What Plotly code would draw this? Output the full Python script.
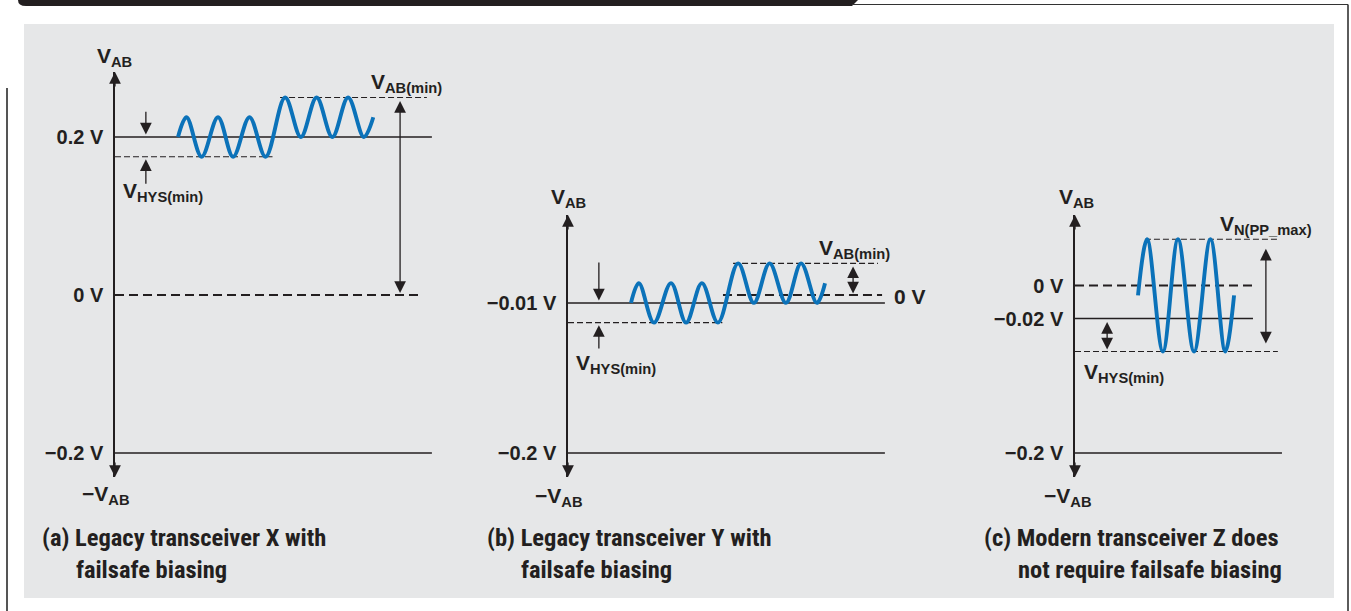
import plotly.graph_objects as go

W, H = 1351, 611

# ------------------------------------------------------------------
# DATA (schematic values: x = time in bit periods, y = differential voltage in V)
# ------------------------------------------------------------------
# Panel (a) Legacy transceiver X with failsafe biasing
a_tick_v = [0.2, 0.0, -0.2]
a_tick_text = ["0.2 V", "0 V", "−0.2 V"]
a_rail_v = [0.2, -0.2]
a_rail_end = [10.06, 10.06]
a_thin_v = [0.175, 0.25]
a_thin_start = [0.0, 5.24]
a_thin_end = [5.0, 9.9]
a_thick_v = [0.0]
a_thick_start = [0.0]
a_thick_end = [9.68]
a_wave_t = [2.0, 2.27, 2.75, 3.27, 3.75, 4.27, 4.78, 5.4, 5.9, 6.4, 6.9, 7.4, 7.9, 8.2]
a_wave_v = [0.2, 0.225, 0.175, 0.225, 0.175, 0.225, 0.175, 0.25, 0.2, 0.25, 0.2, 0.25, 0.2, 0.225]
a_arrow_t = [0.98, 0.98]
a_arrow_tail = [0.234, 0.139]
a_arrow_head = [0.2, 0.175]
a_darrow_t = [9.05]
a_darrow_from = [0.25]
a_darrow_to = [0.0]

# Panel (b) Legacy transceiver Y with failsafe biasing
b_tick_v = [-0.01, -0.2]
b_tick_text = ["−0.01 V", "−0.2 V"]
b_rail_v = [-0.01, -0.2]
b_rail_end = [10.06, 10.06]
b_thin_v = [-0.035, 0.04]
b_thin_start = [0.0, 5.24]
b_thin_end = [4.9, 9.84]
b_thick_v = [0.0]
b_thick_start = [4.92]
b_thick_end = [9.97]
b_wave_t = [2.0, 2.25, 2.73, 3.27, 3.75, 4.25, 4.76, 5.4, 5.9, 6.4, 6.92, 7.4, 7.9, 8.16]
b_wave_v = [-0.01, 0.015, -0.035, 0.015, -0.035, 0.015, -0.035, 0.04, -0.01, 0.04, -0.01, 0.04, -0.01, 0.015]
b_arrow_t = [0.98, 0.98]
b_arrow_tail = [0.043, -0.0696]
b_arrow_head = [-0.01, -0.035]
b_darrow_t = [9.05]
b_darrow_from = [0.04]
b_darrow_to = [0.0]

# Panel (c) Modern transceiver Z (broken axis: upper part near 0 V, lower part the -0.2 V rail)
c_tick_v = [0.0, -0.02]
c_tick_text = ["0 V", "−0.02 V"]
c_low_tick_v = [-0.2]
c_low_tick_text = ["−0.2 V"]
c_rail_v = [-0.02]
c_rail_end = [5.65]
c_low_rail_v = [-0.2]
c_low_rail_end = [6.57]
c_thin_v = [0.028, -0.04]
c_thin_start = [2.22, 0.0]
c_thin_end = [6.44, 6.44]
c_thick_v = [0.0]
c_thick_start = [0.0]
c_thick_end = [5.62]
c_wave_t = [2.0, 2.29, 2.79, 3.27, 3.78, 4.3, 4.77, 5.05]
c_wave_v = [-0.006, 0.028, -0.04, 0.028, -0.04, 0.028, -0.04, -0.006]
c_darrow_t = [6.06, 1.02]
c_darrow_from = [0.028, -0.02]
c_darrow_to = [-0.04, -0.04]
c_darrow_standoff = [8, 2]

captions = [
    ("(a) Legacy transceiver X with", "failsafe biasing"),
    ("(b) Legacy transceiver Y with", "failsafe biasing"),
    ("(c) Modern transceiver Z does", "not require failsafe biasing"),
]

# ------------------------------------------------------------------
# STYLE / LAYOUT GEOMETRY
# ------------------------------------------------------------------
INK = "#231f20"
BLUE = "#0b72b9"
GRAY_BG = "#e6e7e8"
FONT = "Liberation Sans, Arial, Helvetica, sans-serif"
NARROW = ("Liberation Sans Narrow, Arial Narrow, Noto Sans Condensed, Roboto Condensed, "
          "Open Sans Condensed, Liberation Sans, sans-serif")
PX_PER_T = 31.5


def px(x):
    return x / W


def py(y):
    return 1 - y / H


def xgeom(axis_px, right_px):
    return dict(domain=[px(axis_px), px(right_px)],
                range=[0, (right_px - axis_px) / PX_PER_T])


def ygeom(zero_px, scale, top_px, bot_px):
    return dict(domain=[py(bot_px), py(top_px)],
                range=[(zero_px - bot_px) / scale, (zero_px - top_px) / scale])


fig = go.Figure()

xa_common = dict(visible=False, showgrid=False, zeroline=False, fixedrange=True)
ya_common = dict(showgrid=False, zeroline=False, showline=True, linecolor=INK, linewidth=1.5,
                 ticks="outside", ticklen=6, tickcolor="rgba(0,0,0,0)",
                 tickfont=dict(family=FONT, size=20, color=INK, weight="bold"),
                 automargin=False, fixedrange=True)

fig.update_layout(
    xaxis=dict(**xa_common, **xgeom(115, 440)),
    yaxis=dict(**ya_common, **ygeom(295, 790, 72, 477), anchor="x",
               tickvals=a_tick_v, ticktext=a_tick_text),
    xaxis2=dict(**xa_common, **xgeom(568, 905), anchor="y2"),
    yaxis2=dict(**ya_common, **ygeom(295, 790, 215, 477), anchor="x2",
                tickvals=b_tick_v, ticktext=b_tick_text),
    xaxis3=dict(**xa_common, **xgeom(1075, 1320), anchor="y3"),
    yaxis3=dict(**ya_common, **ygeom(285.5, 1650, 215, 385), anchor="x3",
                tickvals=c_tick_v, ticktext=c_tick_text),
    yaxis4=dict(**ya_common, **ygeom(123, 1650, 385, 477), anchor="x3",
                tickvals=c_low_tick_v, ticktext=c_low_tick_text),
)


def add_levels(xa, ya, vals, starts, ends, width, dash):
    for v, s, e in zip(vals, starts, ends):
        fig.add_trace(go.Scatter(x=[s, e], y=[v, v], mode="lines", xaxis=xa, yaxis=ya,
                                 line=dict(color=INK, width=width, dash=dash),
                                 hoverinfo="skip", showlegend=False))


def add_wave(xa, ya, t, v):
    fig.add_trace(go.Scatter(x=t, y=v, mode="lines", xaxis=xa, yaxis=ya,
                             line=dict(color=BLUE, width=3.9, shape="spline", smoothing=1.0),
                             hoverinfo="skip", showlegend=False))


THIN = "6px,3px"
THICK = "9px,5px"

# panel (a)
add_levels("x", "y", a_rail_v, [0, 0], a_rail_end, 1.5, "solid")
add_levels("x", "y", a_thin_v, a_thin_start, a_thin_end, 1.1, THIN)
add_levels("x", "y", a_thick_v, a_thick_start, a_thick_end, 2.2, THICK)
add_wave("x", "y", a_wave_t, a_wave_v)
# panel (b)
add_levels("x2", "y2", b_rail_v, [0, 0], b_rail_end, 1.5, "solid")
add_levels("x2", "y2", b_thin_v, b_thin_start, b_thin_end, 1.1, THIN)
add_levels("x2", "y2", b_thick_v, b_thick_start, b_thick_end, 2.2, THICK)
add_wave("x2", "y2", b_wave_t, b_wave_v)
# panel (c)
add_levels("x3", "y3", c_rail_v, [0], c_rail_end, 1.5, "solid")
add_levels("x3", "y4", c_low_rail_v, [0], c_low_rail_end, 1.5, "solid")
add_levels("x3", "y3", c_thin_v, c_thin_start, c_thin_end, 1.1, THIN)
add_levels("x3", "y3", c_thick_v, c_thick_start, c_thick_end, 2.2, THICK)
add_wave("x3", "y3", c_wave_t, c_wave_v)

annotations = []
HEAD = 1.8
ARW = dict(showarrow=True, text="", arrowhead=2, arrowsize=HEAD, arrowwidth=1.3, arrowcolor=INK)


def arrow(xr, yr, x, y_tail, y_head, standoff=3, double=False):
    d = dict(ARW, xref=xr, yref=yr, axref=xr, ayref=yr, x=x, y=y_head, ax=x, ay=y_tail,
             standoff=standoff)
    if double:
        d.update(arrowside="end+start", startarrowhead=2, startarrowsize=HEAD, startstandoff=standoff)
    annotations.append(d)


for t, tl, hd in zip(a_arrow_t, a_arrow_tail, a_arrow_head):
    arrow("x", "y", t, tl, hd, 2.5)
for t, f, to in zip(a_darrow_t, a_darrow_from, a_darrow_to):
    arrow("x", "y", t, f, to, 2, True)
for t, tl, hd in zip(b_arrow_t, b_arrow_tail, b_arrow_head):
    arrow("x2", "y2", t, tl, hd, 2.5)
for t, f, to in zip(b_darrow_t, b_darrow_from, b_darrow_to):
    arrow("x2", "y2", t, f, to, 1.5, True)
for t, f, to, so in zip(c_darrow_t, c_darrow_from, c_darrow_to, c_darrow_standoff):
    arrow("x3", "y3", t, f, to, so, True)


# axis arrowheads (ends of each vertical axis)
def axis_tip(xr, yr, rng, top=True):
    eps = 1e-9
    if top:
        annotations.append(dict(ARW, xref=xr, yref=yr, x=0, y=rng[1] - eps, ax=0, ay=16))
    else:
        annotations.append(dict(ARW, xref=xr, yref=yr, x=0, y=rng[0] + eps, ax=0, ay=-16))


axis_tip("x", "y", fig.layout.yaxis.range, True)
axis_tip("x", "y", fig.layout.yaxis.range, False)
axis_tip("x2", "y2", fig.layout.yaxis2.range, True)
axis_tip("x2", "y2", fig.layout.yaxis2.range, False)
axis_tip("x3", "y3", fig.layout.yaxis3.range, True)
axis_tip("x3", "y4", fig.layout.yaxis4.range, False)

LBL = dict(showarrow=False, xref="paper", yref="paper",
           font=dict(family=FONT, size=21, color=INK, weight="bold"))


def label(text, x, y, xanchor="left"):
    annotations.append(dict(LBL, text=text, x=px(x), y=py(y), xanchor=xanchor, yanchor="middle"))


label("V<sub>AB</sub>", 114, 57, "center")
label("−V<sub>AB</sub>", 106, 495, "center")
label("V<sub>HYS(min)</sub>", 121, 192)
label("V<sub>AB(min)</sub>", 369, 83)

label("V<sub>AB</sub>", 568, 198, "center")
label("−V<sub>AB</sub>", 559, 497, "center")
label("V<sub>AB(min)</sub>", 817, 249)
label("0 V", 892, 296)
label("V<sub>HYS(min)</sub>", 574, 364)

label("V<sub>AB</sub>", 1076, 198, "center")
label("−V<sub>AB</sub>", 1068, 497, "center")
label("V<sub>N(PP_max)</sub>", 1218, 225)
label("V<sub>HYS(min)</sub>", 1082, 373)

# captions: one two-line text each, second line with a hanging indent
CAP = dict(showarrow=False, xref="paper", yref="paper", xanchor="left", yanchor="middle",
           align="left", font=dict(family=NARROW, size=24.5, color=INK, weight="bold"))
INDENT = "\u00a0" * 6
cap_x = [40, 485, 982]
for (l1, l2), x1 in zip(captions, cap_x):
    annotations.append(dict(CAP, text=f"{l1}<br>{INDENT}{l2}", x=px(x1), y=py(553)))

# ------------------------------------------------------------------
# FRAME DECORATION (page furniture)
# ------------------------------------------------------------------
shapes = [
    dict(type="rect", xref="paper", yref="paper", x0=px(24), x1=px(1334), y0=py(598), y1=py(24),
         fillcolor=GRAY_BG, line=dict(width=0), layer="below"),
    dict(type="path", xref="paper", yref="paper",
         path=f"M {px(18)},{py(0)} L {px(858)},{py(0)} L {px(852)},{py(6)} L {px(26)},{py(6)} "
              f"Q {px(18)},{py(6)} {px(18)},{py(0)} Z",
         fillcolor="#231f20", line=dict(width=0), layer="below"),
    dict(type="line", xref="paper", yref="paper", x0=px(852), x1=px(1348), y0=py(4.5), y1=py(4.5),
         line=dict(color="#333333", width=1.2)),
    dict(type="line", xref="paper", yref="paper", x0=px(1348), x1=px(1348), y0=py(4.5), y1=py(611),
         line=dict(color="#333333", width=1.6)),
    dict(type="line", xref="paper", yref="paper", x0=px(7), x1=px(7), y0=py(88), y1=py(611),
         line=dict(color="#555555", width=2)),
]

fig.update_layout(
    width=W, height=H, margin=dict(l=0, r=0, t=0, b=0),
    paper_bgcolor="white", plot_bgcolor="rgba(0,0,0,0)",
    showlegend=False, annotations=annotations, shapes=shapes,
    font=dict(family=FONT, color=INK),
)

fig.write_html("out.html", config={"displayModeBar": False},
               post_script="document.body.style.margin='0px';document.body.style.padding='0px';"
                           "document.body.style.overflow='hidden';")
